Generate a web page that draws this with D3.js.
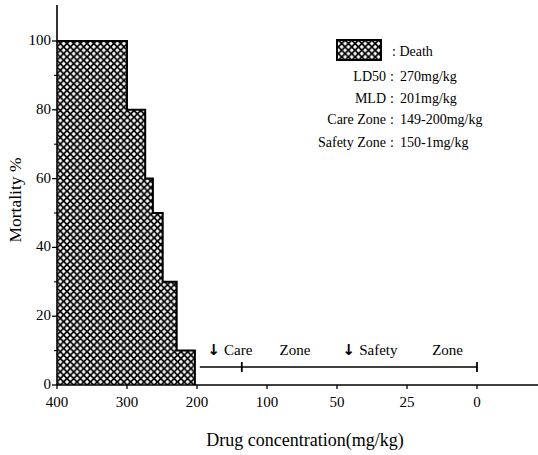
<!DOCTYPE html>
<html><head><meta charset="utf-8">
<script src="https://cdn.jsdelivr.net/npm/d3@7"></script>
<style>
html,body{margin:0;padding:0;background:#fff;}
svg{display:block;font-family:"Liberation Serif","Times New Roman",serif;}
</style></head>
<body>
<svg id="chart" width="538" height="455"></svg>
<script>
// ---- data ----
const xTicks = [400, 300, 200, 100, 50, 25, 0];
const doses = [300, 274, 263, 249, 229, 203];       // right edge of each step (mg/kg)
const mortality = [100, 80, 60, 50, 30, 10];        // mortality %
const yTicks = [0, 20, 40, 60, 80, 100];
const yMinor = [10, 30, 50, 70, 90];
const zoneLine = [196, 136, 0];                      // start, care/safety split, end (mg/kg)
const zoneArrows = [true, false, true, false];
const zoneLabels = ["Care", "Zone", "Safety", "Zone"];
const zoneLabelAt = [185, 91, 48, 16];
const legendLabels = ["LD50", "MLD", "Care Zone", "Safety Zone"];
const legendValues = ["270mg/kg", "201mg/kg", "149-200mg/kg", "150-1mg/kg"];

const svg = d3.select("#chart");
const x0 = 57, step = 70;
const x = d3.scaleLinear().domain(xTicks).range(xTicks.map((d, i) => x0 + i * step));
const y = d3.scaleLinear().domain([0, 100]).range([385, 41]);

// pattern
const defs = svg.append("defs");
const T = 6.7, h = 2.1;
const pat = defs.append("pattern").attr("id", "hatch").attr("patternUnits", "userSpaceOnUse")
  .attr("width", T).attr("height", T);
pat.append("rect").attr("width", T).attr("height", T).attr("fill", "#000");
[[0,0],[T,0],[0,T],[T,T],[T/2,T/2]].forEach(([cx, cy]) => {
  pat.append("path").attr("d", `M${cx-h},${cy} L${cx},${cy-h} L${cx+h},${cy} L${cx},${cy+h}Z`).attr("fill", "#fff");
});

// bars
svg.append("g").selectAll("rect").data(doses).join("rect")
  .attr("x", x(400)).attr("y", (d, i) => y(mortality[i]))
  .attr("width", d => x(d) - x(400))
  .attr("height", (d, i) => y(0) - y(mortality[i]))
  .attr("fill", "url(#hatch)");

// step outline
const stepPts = [{d: 400, m: mortality[0]}].concat(doses.map((d, i) => ({d, m: i + 1 < mortality.length ? mortality[i + 1] : 0})));
svg.append("path").datum(stepPts)
  .attr("d", d3.line().x(p => x(p.d)).y(p => y(p.m)).curve(d3.curveStepAfter))
  .attr("fill", "none").attr("stroke", "#000").attr("stroke-width", 2);

// y axis
const gy = svg.append("g").attr("transform", `translate(${x(400)},0)`);
gy.append("line").attr("y1", 5).attr("y2", y(0)).attr("stroke", "#000").attr("stroke-width", 1.6);
gy.selectAll(".maj").data(yTicks).join("line").attr("x1", -5).attr("x2", 0)
  .attr("y1", d => y(d)).attr("y2", d => y(d)).attr("stroke", "#000").attr("stroke-width", 1.3);
gy.selectAll(".min").data(yMinor).join("line").attr("x1", -3).attr("x2", 1)
  .attr("y1", d => y(d)).attr("y2", d => y(d)).attr("stroke", "#000").attr("stroke-width", 1.1);
gy.selectAll("text").data(yTicks).join("text").attr("x", -6).attr("y", d => y(d) + 4)
  .attr("text-anchor", "end").attr("font-size", 15).text(d => d);

// x axis
const gx = svg.append("g").attr("transform", `translate(0,${y(0)})`);
gx.append("line").attr("x1", x(400)).attr("x2", 538).attr("stroke", "#000").attr("stroke-width", 1.6);
gx.selectAll(".t").data(xTicks).join("line").attr("x1", d => x(d)).attr("x2", d => x(d))
  .attr("y1", 0).attr("y2", 4).attr("stroke", "#000").attr("stroke-width", 1.3);
gx.selectAll("text").data(xTicks).join("text").attr("x", d => x(d)).attr("y", 22)
  .attr("text-anchor", "middle").attr("font-size", 15).text(d => d);

// titles
svg.append("text").attr("x", 305).attr("y", 446).attr("text-anchor", "middle")
  .attr("font-size", 18).text("Drug concentration(mg/kg)");
svg.append("text").attr("transform", `translate(21,200) rotate(-90)`).attr("text-anchor", "middle")
  .attr("font-size", 17.5).text("Mortality %");

// zone line
const zy = 367;
svg.append("line").attr("x1", x(zoneLine[0])).attr("x2", x(zoneLine[2])).attr("y1", zy).attr("y2", zy)
  .attr("stroke", "#000").attr("stroke-width", 1.5);
svg.selectAll(".zt").data(zoneLine.slice(1)).join("line").attr("x1", d => x(d)).attr("x2", d => x(d))
  .attr("y1", zy - 5).attr("y2", zy + 5).attr("stroke", "#000").attr("stroke-width", 1.8);
const zt = svg.selectAll(".zl").data(zoneLabels).join("text").attr("x", (d, i) => x(zoneLabelAt[i])).attr("y", 355)
  .attr("font-size", 15);
zt.filter((d, i) => zoneArrows[i]).append("tspan").attr("font-family", "DejaVu Sans").attr("font-weight", "bold")
  .attr("font-size", 15).text("↓");
zt.append("tspan").attr("dx", (d, i) => zoneArrows[i] ? 4 : 0).text(d => d);

// legend
svg.append("rect").attr("x", 337).attr("y", 40).attr("width", 44).attr("height", 20)
  .attr("fill", "url(#hatch)").attr("stroke", "#000").attr("stroke-width", 2);
svg.append("text").attr("x", 392).attr("y", 56).attr("font-size", 14).text(": Death");
const ly = [81, 103, 124, 147];
svg.selectAll(".ll").data(legendLabels).join("text").attr("x", 386).attr("y", (d, i) => ly[i])
  .attr("text-anchor", "end").attr("font-size", 14).text(d => d);
svg.selectAll(".lc").data(legendLabels).join("text").attr("x", 392).attr("y", (d, i) => ly[i])
  .attr("text-anchor", "middle").attr("font-size", 14).text(":");
svg.selectAll(".lv").data(legendValues).join("text").attr("x", 400).attr("y", (d, i) => ly[i])
  .attr("font-size", 14).text(d => d);
</script>
</body></html>
